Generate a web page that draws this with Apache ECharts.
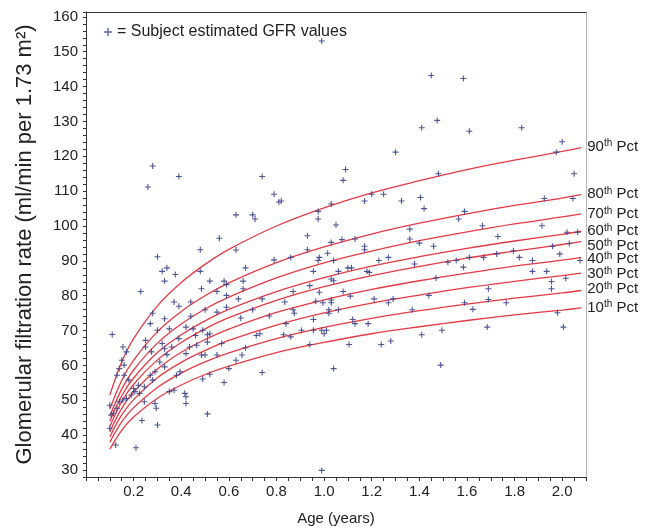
<!DOCTYPE html>
<html>
<head>
<meta charset="utf-8">
<script src="https://cdn.jsdelivr.net/npm/echarts/dist/echarts.min.js"></script>
<style>
html,body{margin:0;padding:0;background:#fff;}
#chart{width:660px;height:531px;}
</style>
</head>
<body>
<div id="chart"></div>
<script>
// Percentile curve sample ages (years)
const curveAges = [0.1, 0.15, 0.2, 0.3, 0.4, 0.5, 0.6, 0.8, 1.0, 1.2, 1.4, 1.6, 1.8, 2.0, 2.08];
// Percentile curves (ml/min per 1.73 m2)
const pct90 = [51.5, 61.0, 67.7, 77.1, 83.8, 89.0, 93.3, 100.0, 105.2, 109.5, 113.0, 116.2, 118.9, 121.4, 122.5];
const pct80 = [47.5, 55.7, 61.5, 69.7, 75.5, 80.0, 83.7, 89.5, 94.0, 97.7, 100.8, 103.5, 105.9, 108.0, 109.0];
const pct70 = [45.5, 53.2, 58.7, 66.4, 71.9, 76.2, 79.6, 85.1, 89.4, 92.8, 95.8, 98.3, 100.6, 102.6, 103.5];
const pct60 = [44.0, 51.3, 56.4, 63.7, 68.8, 72.8, 76.1, 81.2, 85.2, 88.5, 91.2, 93.6, 95.7, 97.6, 98.5];
const pct50 = [42.5, 49.6, 54.6, 61.6, 66.6, 70.5, 73.7, 78.7, 82.6, 85.8, 88.4, 90.8, 92.8, 94.7, 95.5];
const pct40 = [41.0, 47.7, 52.4, 59.0, 63.8, 67.4, 70.4, 75.2, 78.8, 81.8, 84.3, 86.5, 88.5, 90.2, 91.0];
const pct30 = [39.5, 45.8, 50.2, 56.5, 60.9, 64.3, 67.2, 71.6, 75.1, 77.9, 80.2, 82.3, 84.1, 85.8, 86.5];
const pct20 = [38.0, 43.8, 47.9, 53.7, 57.8, 61.0, 63.6, 67.7, 70.9, 73.5, 75.7, 77.6, 79.3, 80.8, 81.5];
const pct10 = [36.0, 41.4, 45.2, 50.6, 54.4, 57.4, 59.8, 63.7, 66.6, 69.1, 71.1, 72.9, 74.5, 75.9, 76.5];
const pctNames = ['90', '80', '70', '60', '50', '40', '30', '20', '10'];

// Subject estimated GFR values
const subjAge = [
0.28,0.26,0.39,0.74,0.79,0.81,0.63,0.70,0.71,0.56,
0.30,0.48,0.63,0.32,0.34,0.33,0.375,0.48,0.23,0.52,0.58,0.59,0.66,0.66,0.485,0.55,0.59,0.64,0.44,0.37,0.74,0.67,
0.28,0.33,0.39,0.44,0.50,0.55,0.59,0.65,0.70,0.11,0.27,0.25,0.30,0.35,0.42,0.45,0.46,0.49,0.51,0.52,
0.155,0.17,0.15,0.14,0.16,0.25,0.275,0.32,0.33,0.34,0.36,0.39,0.42,0.435,0.465,0.485,0.50,0.51,0.55,0.57,0.60,0.63,0.655,0.715,0.73,0.67,0.74,0.58,0.52,0.49,
0.13,0.16,0.18,0.20,0.22,0.19,0.205,0.225,0.245,0.27,0.28,0.29,0.31,0.33,0.38,0.395,0.35,0.37,0.415,0.42,0.42,0.245,0.29,0.295,0.30,0.235,0.51,0.10,0.105,0.115,0.125,0.21,0.10,0.13,0.14,0.155,0.17,
0.99,1.45,1.585,1.475,1.41,1.61,1.30,1.09,1.08,0.82,1.03,1.20,1.25,1.17,1.325,1.405,1.42,1.48,0.975,0.975,1.05,0.93,1.36,1.565,1.59,
1.03,1.075,1.13,1.17,1.17,0.93,0.79,0.86,0.98,0.975,1.015,1.04,1.23,1.27,1.36,1.40,1.46,1.38,1.52,1.555,1.585,1.47,0.955,1.06,1.10,1.115,1.18,1.19,1.03,1.04,
0.94,0.87,0.98,1.08,1.11,1.21,1.27,1.29,1.44,1.59,0.835,0.965,0.995,1.03,1.03,0.87,0.875,1.02,1.02,1.06,1.37,0.77,0.955,0.84,1.12,1.13,1.185,0.905,0.955,0.99,1.01,1.00,0.83,0.86,1.41,1.495,0.94,1.105,1.24,1.28,1.04,1.49,
1.83,2.00,1.975,2.05,1.925,2.045,1.665,1.915,1.73,2.02,2.065,
2.03,1.96,1.99,1.795,1.725,1.67,1.61,1.82,1.875,2.075,1.875,1.935,2.015,1.955,1.955,1.69,1.69,1.765,1.625,1.98,1.685,2.005,
0.99
];
const subjGFR = [
117.2,111.2,114.2,114.2,109.1,106.9,103.2,103.2,102.0,96.5,
91.2,93.2,93.1,87.0,88.0,84.2,86.1,87.0,81.2,84.2,84.2,83.2,84.2,82.0,82.0,81.2,80.1,79.1,78.2,78.2,79.1,88.0,
75.0,73.4,77.0,74.1,76.0,75.3,76.7,73.6,76.0,68.9,72.0,67.2,70.1,70.5,71.0,70.5,68.6,70.1,68.8,69.1,
65.3,63.9,61.5,59.1,60.1,65.3,63.9,66.3,64.8,63.1,65.3,67.7,63.4,65.3,65.8,63.0,63.0,66.7,63.0,66.3,59.1,61.5,63.0,68.6,69.1,65.1,58.0,55.1,57.5,56.1,
57.2,57.2,55.8,53.4,54.3,51.5,52.5,52.0,53.9,57.2,55.8,58.2,61.0,59.6,57.2,58.2,52.5,52.9,52.0,51.0,49.1,49.6,49.1,47.7,42.9,44.2,46.1,48.6,45.8,46.3,37.2,36.4,42.0,47.7,49.6,50.1,50.5,
153.1,143.2,142.3,130.3,128.2,127.2,121.2,116.2,113.1,107.2,106.3,109.1,109.1,107.2,107.2,108.2,105.0,115.0,104.2,102.0,100.3,97.2,99.1,102.0,104.2,
95.3,96.1,96.3,94.2,93.2,93.2,90.3,91.0,91.0,90.1,92.2,90.1,90.1,91.0,96.3,95.1,94.2,89.1,89.6,90.1,88.2,85.1,87.0,87.0,88.0,88.0,87.0,86.7,84.8,84.3,
82.9,81.2,81.0,81.2,79.9,79.1,78.0,79.1,80.1,78.0,78.2,78.4,78.0,78.8,78.0,76.0,75.0,76.0,75.0,76.0,76.0,74.2,73.2,72.0,73.2,72.0,72.0,70.1,70.1,70.1,70.1,69.1,68.8,68.2,68.8,70.1,66.0,66.0,66.0,67.0,59.1,60.1,
128.2,124.2,121.2,115.0,107.9,107.9,100.1,100.1,97.0,98.2,98.2,
95.0,94.2,92.0,92.9,92.0,91.0,91.0,91.0,90.1,90.1,87.0,87.0,85.0,84.1,82.0,82.0,78.9,78.0,76.1,75.1,71.0,71.0,
29.9
];

const FONT = "'Liberation Sans', Arial, Helvetica, sans-serif";
const plusPath = 'path://M4.1,0H5.9V4.1H10V5.9H5.9V10H4.1V5.9H0V4.1H4.1Z';
const curves = [pct90, pct80, pct70, pct60, pct50, pct40, pct30, pct20, pct10];
// vertical nudges of the right-hand percentile labels (px), as laid out in the figure
const labelNudge = [-1.2, -0.4, 0.3, -0.2, 4.3, 1.6, 0.8, -1.7, -0.2];

const lineSeries = curves.map((vals, i) => ({
  type: 'line',
  name: pctNames[i] + 'th Pct',
  data: curveAges.map((a, j) => [a, vals[j]]),
  smooth: 0.35,
  showSymbol: false,
  symbol: 'none',
  silent: true,
  z: 2,
  lineStyle: { color: '#e43a46', width: 1.3 },
  endLabel: {
    show: true,
    distance: 6,
    offset: [0, labelNudge[i]],
    formatter: () => '{n|' + pctNames[i] + '}{s|th}{n| Pct}',
    rich: {
      n: { fontSize: 15, fontFamily: FONT, color: '#222', lineHeight: 16 },
      s: { fontSize: 10, fontFamily: FONT, color: '#222', verticalAlign: 'top', lineHeight: 16, padding: [0, 0, 6, 0] }
    }
  }
}));

const chart = echarts.init(document.getElementById('chart'), null, { renderer: 'canvas' });
chart.setOption({
  animation: false,
  backgroundColor: '#fff',
  textStyle: { fontFamily: FONT },
  grid: { left: 86, right: 74, top: 12, bottom: 52, containLabel: false },
  legend: {
    left: 99, top: 19,
    itemWidth: 8, itemHeight: 8,
    data: [{ name: 'Subject estimated GFR values', icon: plusPath, itemStyle: { color: '#4a5ab0' } }],
    formatter: '= {name}',
    textStyle: { fontSize: 16, color: '#222', fontFamily: FONT },
    selectedMode: false
  },
  xAxis: [{
    type: 'value', min: 0, max: 2.1, interval: 0.05,
    name: 'Age (years)', nameLocation: 'middle', nameGap: 34,
    nameTextStyle: { fontSize: 15, color: '#222', fontFamily: FONT },
    axisLine: { show: true, lineStyle: { color: '#333', width: 1 } },
    axisTick: { show: true, length: 4, lineStyle: { color: '#333' } },
    axisLabel: {
      fontSize: 15, color: '#222', margin: 7, fontFamily: FONT,
      formatter: v => { const k = Math.round(v * 20); return (k > 0 && k % 4 === 0) ? (k / 20).toFixed(1) : ''; }
    },
    splitLine: { show: false }
  }, {
    type: 'value', position: 'top', min: 0, max: 2.1,
    axisLine: { show: true, onZero: false, lineStyle: { color: '#333', width: 1 } },
    axisTick: { show: false }, axisLabel: { show: false }, splitLine: { show: false }
  }],
  yAxis: [{
    type: 'value', min: 28, max: 161.4, interval: 2,
    name: 'Glomerular filtration rate (ml/min per 1.73 m²)',
    nameLocation: 'middle', nameRotate: 90, nameGap: 50,
    nameTextStyle: { fontSize: 22, color: '#222', fontFamily: FONT },
    axisLine: { show: true, lineStyle: { color: '#333', width: 1 } },
    axisTick: { show: true, length: 3, lineStyle: { color: '#333' } },
    axisLabel: {
      fontSize: 15, color: '#222', margin: 8, fontFamily: FONT,
      formatter: v => (Math.abs(v % 10) < 1e-6 ? String(v) : '')
    },
    splitLine: { show: false }
  }, {
    type: 'value', position: 'right', min: 28, max: 161.4,
    axisLine: { show: true, onZero: false, lineStyle: { color: '#b5b5b5', width: 1 } },
    axisTick: { show: false }, axisLabel: { show: false }, splitLine: { show: false }
  }],
  series: lineSeries.concat([{
    type: 'scatter',
    name: 'Subject estimated GFR values',
    data: subjAge.map((a, i) => [a, subjGFR[i]]),
    symbol: plusPath,
    symbolSize: 6,
    z: 3,
    itemStyle: { color: '#3a4488', opacity: 0.9 }
  }])
});
</script>
</body>
</html>
